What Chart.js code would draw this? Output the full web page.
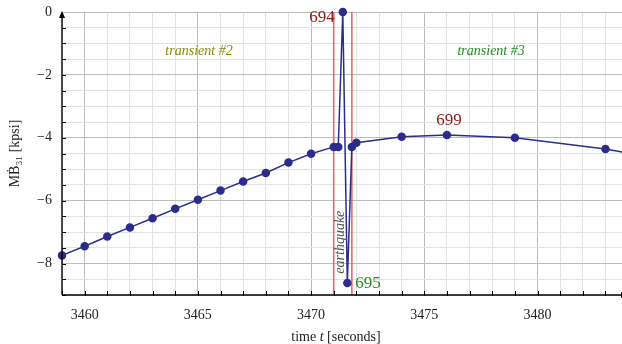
<!DOCTYPE html>
<html>
<head>
<meta charset="utf-8">
<script src="https://cdn.jsdelivr.net/npm/chart.js@4"></script>
<style>
  body { margin: 0; background: #fff; }
  canvas { display: block; }
</style>
</head>
<body>
<canvas id="stressChart" width="622" height="344"></canvas>
<script>
// sample times [s] and stress MB31 [kpsi]
const times = [3459, 3460, 3461, 3462, 3463, 3464, 3465, 3466, 3467, 3468, 3469, 3470,
  3471.0, 3471.2, 3471.4, 3471.6, 3471.8, 3472, 3474, 3476, 3479, 3483, 3486];
const stress = [-7.74, -7.45, -7.14, -6.85, -6.56, -6.26, -5.97, -5.68, -5.39, -5.12, -4.79, -4.51,
  -4.29, -4.29, 0.0, -8.62, -4.29, -4.16, -3.97, -3.91, -4.0, -4.36, -4.75];

// earthquake window boundaries
const quakeBounds = [3471.0, 3471.8];

// sample numbers tagged on the curve
const tagTimes = [3471.4, 3471.6, 3476];
const tagTexts = ["694", "695", "699"];

// region captions: text, time, stress
const regionTexts = ["transient #2", "transient #3"];
const regionTimes = [3465.05, 3477.95];
const regionLevel = -1.25;

const xMin = 3459, xMax = 3483.73;
const yMin = -9, yMax = 0;

const SERIF = '"Liberation Serif", "DejaVu Serif", serif';
const LINE = "#2b2d8c";

const decorations = {
  id: "decorations",
  beforeDatasetsDraw(chart) {
    const { ctx, chartArea: a, scales: { x } } = chart;
    ctx.save();
    ctx.strokeStyle = "rgba(235, 90, 90, 0.9)";
    ctx.lineWidth = 1.6;
    quakeBounds.forEach(t => {
      const px = x.getPixelForValue(t);
      ctx.beginPath();
      ctx.moveTo(px, a.top);
      ctx.lineTo(px, a.bottom);
      ctx.stroke();
    });
    ctx.restore();
  },
  afterDraw(chart) {
    const { ctx, chartArea: a, scales: { x, y } } = chart;
    ctx.save();

    // axes with arrow heads
    ctx.strokeStyle = "#000";
    ctx.fillStyle = "#000";
    ctx.lineWidth = 1.4;
    ctx.beginPath();
    ctx.moveTo(a.left, a.bottom);
    ctx.lineTo(a.left, a.top + 4);
    ctx.moveTo(a.left, a.bottom);
    ctx.lineTo(a.right + 10, a.bottom);
    ctx.stroke();
    ctx.beginPath();
    ctx.moveTo(a.left, a.top - 1);
    ctx.lineTo(a.left - 3, a.top + 6);
    ctx.lineTo(a.left + 3, a.top + 6);
    ctx.closePath();
    ctx.fill();
    ctx.beginPath();
    ctx.moveTo(a.right + 6, a.bottom);
    ctx.lineTo(a.right - 1, a.bottom - 3);
    ctx.lineTo(a.right - 1, a.bottom + 3);
    ctx.closePath();
    ctx.fill();

    // inward tick marks
    ctx.lineWidth = 1;
    ctx.beginPath();
    y.ticks.forEach(t => {
      if (t.value >= 0) return;
      const py = Math.round(y.getPixelForValue(t.value)) + 0.5;
      ctx.moveTo(a.left, py);
      ctx.lineTo(a.left + 4, py);
    });
    x.ticks.forEach(t => {
      const px = Math.round(x.getPixelForValue(t.value)) + 0.5;
      ctx.moveTo(px, a.bottom + 1);
      ctx.lineTo(px, a.bottom - 4);
    });
    ctx.stroke();

    // x axis title with italic t
    ctx.textBaseline = "middle";
    ctx.textAlign = "left";
    ctx.fillStyle = "#222";
    const parts = [["time ", ""], ["t", "italic "], [" [seconds]", ""]];
    const widths = parts.map(([s, st]) => { ctx.font = st + "14px " + SERIF; return ctx.measureText(s).width; });
    let tx = (a.left + a.right) / 2 - 6 - widths.reduce((p, c) => p + c, 0) / 2;
    parts.forEach(([s, st], i) => {
      ctx.font = st + "14px " + SERIF;
      ctx.fillText(s, tx, 337);
      tx += widths[i];
    });

    // sample tags
    const at = t => stress[times.indexOf(t)];
    ctx.font = "17px " + SERIF;
    let px = x.getPixelForValue(tagTimes[0]), py = y.getPixelForValue(at(tagTimes[0]));
    ctx.fillStyle = "#8b1a1a";
    ctx.textAlign = "right";
    ctx.fillText(tagTexts[0], px - 8, py + 6);
    px = x.getPixelForValue(tagTimes[1]); py = y.getPixelForValue(at(tagTimes[1]));
    ctx.fillStyle = "#1e8f1e";
    ctx.textAlign = "left";
    ctx.fillText(tagTexts[1], px + 8, py);
    px = x.getPixelForValue(tagTimes[2]); py = y.getPixelForValue(at(tagTimes[2]));
    ctx.fillStyle = "#8b1a1a";
    ctx.textAlign = "center";
    ctx.fillText(tagTexts[2], px + 2, py - 14);

    // region captions
    ctx.font = "italic 14px " + SERIF;
    ctx.textAlign = "center";
    const regionColors = ["#8a8a00", "#1e8f1e"];
    regionTexts.forEach((txt, i) => {
      ctx.fillStyle = regionColors[i];
      ctx.fillText(txt, x.getPixelForValue(regionTimes[i]), y.getPixelForValue(regionLevel));
    });

    // earthquake note along the window
    ctx.translate(x.getPixelForValue(3471.3), y.getPixelForValue(-7.32));
    ctx.rotate(-Math.PI / 2);
    ctx.fillStyle = "#555";
    ctx.fillText("earthquake", 0, 0);
    ctx.restore();
  }
};

new Chart(document.getElementById("stressChart"), {
  type: "scatter",
  data: {
    datasets: [{
      data: times.map((t, i) => ({ x: t, y: stress[i] })),
      showLine: true,
      borderColor: LINE,
      backgroundColor: LINE,
      borderWidth: 1.5,
      pointRadius: 3.5,
      pointHoverRadius: 3.5,
      clip: false
    }]
  },
  options: {
    responsive: false,
    animation: false,
    layout: { autoPadding: false, padding: { top: 12, right: 0, left: 0, bottom: 0 } },
    plugins: { legend: { display: false }, tooltip: { enabled: false } },
    scales: {
      x: {
        type: "linear",
        min: xMin,
        max: xMax,
        afterFit: s => { s.height = 49; s.paddingLeft = 0; s.paddingRight = 0; },
        border: { display: false },
        grid: {
          drawTicks: false,
          color: c => c.tick.value % 5 === 0 ? "#bcbcbc" : "#e2e2e2"
        },
        ticks: {
          stepSize: 1,
          includeBounds: false,
          autoSkip: false,
          maxRotation: 0,
          padding: 12,
          color: "#222",
          font: { family: SERIF, size: 14 },
          callback: v => v % 5 === 0 ? String(v) : ""
        }
      },
      y: {
        min: yMin,
        max: yMax,
        afterFit: s => { s.width = 62; s.paddingTop = 0; s.paddingBottom = 0; },
        border: { display: false },
        grid: {
          drawTicks: false,
          color: c => c.tick.value % 2 === 0 ? "#bcbcbc" : "#e2e2e2"
        },
        ticks: {
          stepSize: 0.5,
          autoSkip: false,
          padding: 10,
          color: "#222",
          font: { family: SERIF, size: 14 },
          callback: v => (Number.isInteger(v) && v % 2 === 0) ? (v === 0 ? "0" : "\u2212" + Math.abs(v)) : ""
        },
        title: {
          display: true,
          text: "M\u1E02\u2083\u2081 [kpsi]",
          color: "#222",
          font: { family: SERIF, size: 14 },
          padding: { top: 7, bottom: 0 }
        }
      }
    }
  },
  plugins: [decorations]
});
</script>
</body>
</html>
